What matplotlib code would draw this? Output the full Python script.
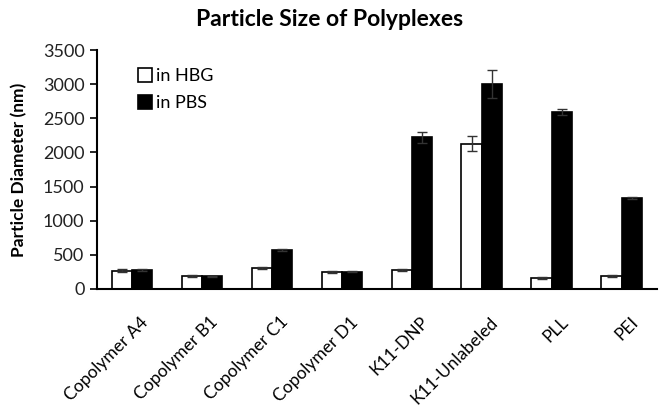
import numpy as np
import matplotlib.pyplot as plt
import matplotlib.transforms as mtransforms

plt.rcParams['font.family'] = ['Lato', 'DejaVu Sans']

categories = ['Copolymer A4', 'Copolymer B1', 'Copolymer C1', 'Copolymer D1',
              'K11-DNP', 'K11-Unlabeled', 'PLL', 'PEI']
hbg = [268, 195, 300, 250, 277, 2125, 160, 195]
hbg_err = [25, 15, 15, 15, 10, 110, 10, 15]
pbs = [280, 185, 570, 255, 2225, 3005, 2590, 1335]
pbs_err = [10, 10, 10, 10, 80, 200, 40, 12]

x = np.arange(len(categories))
w = 0.29

fig, ax = plt.subplots(figsize=(6.64, 4.11), dpi=100)
fig.subplots_adjust(left=0.146, right=0.989, bottom=0.297, top=0.878)

ekw = dict(ecolor='#333333', elinewidth=1, capsize=3.5, capthick=1)
ax.bar(x - w / 2, hbg, w, color='white', edgecolor='black', linewidth=1.2,
       yerr=hbg_err, error_kw=ekw, label='in HBG')
ax.bar(x + w / 2, pbs, w, color='black', edgecolor='black', linewidth=1.2,
       yerr=pbs_err, error_kw=ekw, label='in PBS')

ax.set_xlim(-0.5, len(categories) - 0.5)
ax.set_ylim(0, 3500)
ax.set_yticks(np.arange(0, 3501, 500))
ax.set_xticks(x)
ax.set_xticklabels(categories, rotation=45, ha='right', va='top',
                   rotation_mode='anchor', fontsize=12.5)
ax.tick_params(axis='x', length=0, pad=0)
# excel-style offset of the slanted labels
shift = mtransforms.ScaledTranslation(8 / 100, -25 / 100, fig.dpi_scale_trans)
for lab in ax.get_xticklabels():
    lab.set_transform(lab.get_transform() + shift)
ax.tick_params(axis='y', labelsize=13, length=5, width=1.2, pad=4, labelcolor='#222222')
for s in ['top', 'right']:
    ax.spines[s].set_visible(False)
ax.spines['left'].set_linewidth(1.5)
ax.spines['bottom'].set_linewidth(1.5)

ax.set_ylabel('Particle Diameter (nm)', fontsize=12.5, fontweight='bold', labelpad=11)
fig.suptitle('Particle Size of Polyplexes', fontsize=16.5, fontweight='bold',
             x=0.497, y=0.978, va='top')

ax.legend(loc='upper left', bbox_to_anchor=(0.045, 0.995), frameon=False,
          fontsize=13, handlelength=0.75, handleheight=0.85, handletextpad=0.25,
          labelspacing=0.6)

fig.savefig('out.png', dpi=100)
